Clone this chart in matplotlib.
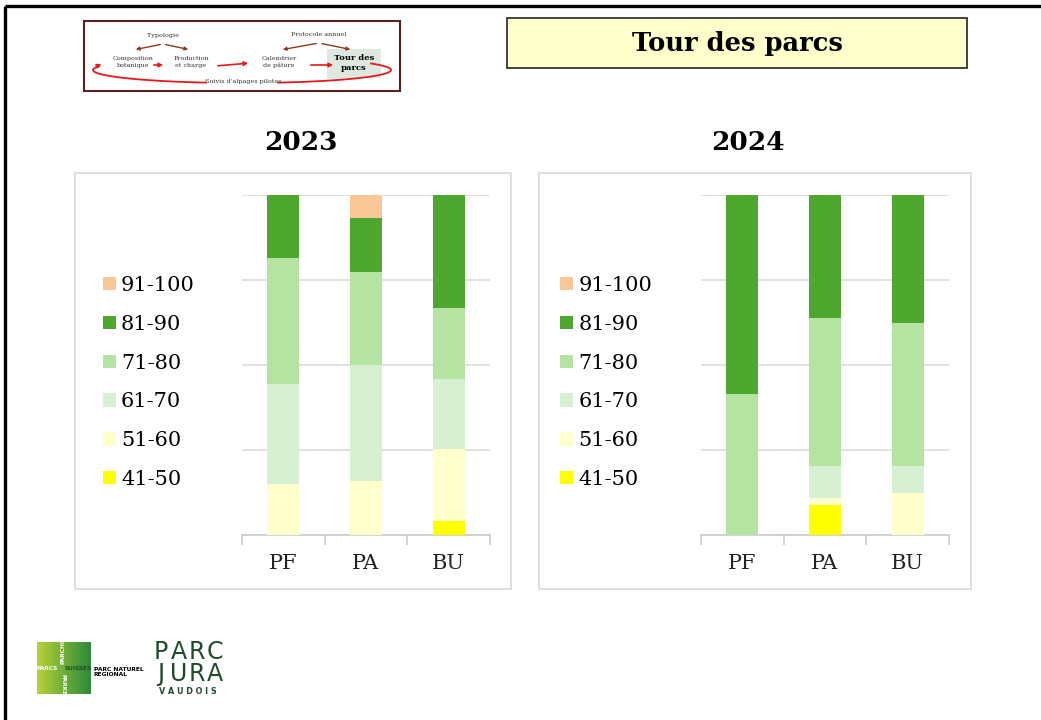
import numpy as np
import matplotlib
matplotlib.use("Agg")
import matplotlib.pyplot as plt
from matplotlib.patches import Rectangle, Patch
from matplotlib.colors import LinearSegmentedColormap

# --- data (share of surface per quality class, %) ---
parks = ["PF", "PA", "BU"]
classes = ["41-50", "51-60", "61-70", "71-80", "81-90", "91-100"]
colors = ["#ffff00", "#ffffcc", "#d8f0d2", "#b5e3a2", "#4ea72e", "#f9c896"]

pf_2023 = [0.0, 15.0, 29.4, 37.1, 18.5, 0.0]
pa_2023 = [0.0, 15.9, 34.0, 27.5, 15.9, 6.7]
bu_2023 = [4.2, 21.0, 20.6, 21.0, 33.2, 0.0]

pf_2024 = [0.0, 0.0, 0.0, 41.4, 58.6, 0.0]
pa_2024 = [8.8, 2.2, 9.4, 43.3, 36.3, 0.0]
bu_2024 = [0.0, 12.3, 8.1, 41.9, 37.7, 0.0]

serif = "DejaVu Serif"
W, H = 1041, 720

fig = plt.figure(figsize=(W / 100, H / 100), dpi=100)
fig.patch.set_facecolor("white")

# background layer in pixel coordinates (slide decoration)
bg = fig.add_axes([0, 0, 1, 1])
bg.set_xlim(0, W)
bg.set_ylim(H, 0)
bg.axis("off")

# slide border
bg.plot([5, W], [6, 6], color="black", lw=2.4, solid_capstyle="butt")
bg.plot([5, 5], [6, H], color="black", lw=2.4, solid_capstyle="butt")

# title box
bg.add_patch(Rectangle((507, 18), 460, 50, facecolor="#ffffcc", edgecolor="#222222", lw=1.2))
bg.text(737, 44, "Tour des parcs", ha="center", va="center", fontsize=18.5,
        fontweight="bold", family=serif)

# process diagram (top left)
brown = "#8b3a1a"
red = "#e8191a"
bg.add_patch(Rectangle((84, 21), 316, 70, facecolor="white", edgecolor="#5a1f1f", lw=1.5))
bg.add_patch(Rectangle((327, 49), 54, 29, facecolor="#dde8e0", edgecolor="none", zorder=1))
small = dict(ha="center", va="center", fontsize=4.6, family=serif, color="#333333", zorder=3)
bg.text(163, 36, "Typologie", **small)
bg.text(319, 34, "Protocole annuel", **small)
bg.text(133, 62, "Composition\nbotanique", linespacing=1.3, **small)
bg.text(191, 62, "Production\net charge", linespacing=1.3, **small)
bg.text(279, 62, "Calendrier\nde pâture", linespacing=1.3, **small)
bg.text(243, 81, "Suivis d'alpages pilotes", **small)
bg.text(354, 63, "Tour des\nparcs", ha="center", va="center", fontsize=6,
        fontweight="bold", family=serif, linespacing=1.2, zorder=3)
for (x0, y0), (x1, y1) in [((163, 44), (133, 50)), ((163, 44), (191, 50)),
                           ((319, 43), (280, 50)), ((319, 43), (353, 50))]:
    bg.annotate("", xy=(x1, y1), xytext=(x0, y0),
                arrowprops=dict(arrowstyle="-|>", color=brown, lw=1.0, mutation_scale=5))
for (x0, y0), (x1, y1) in [((151, 65), (166, 65)), ((215, 66), (251, 63)),
                           ((308, 65), (336, 65))]:
    bg.annotate("", xy=(x1, y1), xytext=(x0, y0),
                arrowprops=dict(arrowstyle="-|>", color=red, lw=1.2, mutation_scale=6))
# loop "Suivis d'alpages pilotes" (two arcs of an ellipse, gap for the text)
for t0, t1 in [(104, 196), (-30, 76)]:
    t = np.radians(np.linspace(t0, t1, 60))
    bg.plot(242 + 149 * np.cos(t), 70 + 13 * np.sin(t), color=red, lw=1.3, zorder=2)
bg.annotate("", xy=(104, 63), xytext=(96, 66.5),
            arrowprops=dict(arrowstyle="-|>", color=red, lw=1.2, mutation_scale=6))

# chart panels
bg.add_patch(Rectangle((75, 173), 436, 416, facecolor="white", edgecolor="#d9d9d9", lw=1.2))
bg.add_patch(Rectangle((539, 173), 432, 416, facecolor="white", edgecolor="#d9d9d9", lw=1.2))

# year titles
bg.text(301, 142, "2023", ha="center", va="center", fontsize=19, fontweight="bold", family=serif)
bg.text(748, 142, "2024", ha="center", va="center", fontsize=19, fontweight="bold", family=serif)

# logos
grad = np.linspace(0, 1, 60)[None, :] * np.ones((60, 1))
cmap = LinearSegmentedColormap.from_list("logo", ["#b8d23a", "#6fae35", "#2f8a3c"])
bg.imshow(grad, cmap=cmap, extent=(37, 91, 694, 642), aspect="auto", zorder=2)
bg.text(47, 668, "PARCS", fontsize=4.2, color="white", ha="center", va="center", fontweight="bold", zorder=3)
bg.text(78, 668, "SUISSES", fontsize=4.2, color="#1d4d22", ha="center", va="center", fontweight="bold", zorder=3)
bg.text(63, 652, "PARCHI", fontsize=4.2, color="white", ha="center", va="center", rotation=90, fontweight="bold", zorder=3)
bg.text(63, 685, "PARKE", fontsize=4.2, color="white", ha="center", va="center", rotation=-90, fontweight="bold", zorder=3)
bg.text(94, 672, "PARC NATUREL\nREGIONAL", fontsize=4.3, ha="left", va="center",
        fontweight="bold", linespacing=1.1, family="Liberation Sans Narrow")
dark = "#1f4a2c"
for word, y in [("PARC", 652), ("JURA", 674)]:
    for k, ch in enumerate(word):
        bg.text(161 + k * 18, y, ch, fontsize=17, color=dark, ha="center", va="center",
                family="DejaVu Sans")
bg.text(188, 691, "V A U D O I S", fontsize=5.8, color=dark, ha="center", va="center",
        fontweight="bold", family="DejaVu Sans")


def stacked_chart(rect, rows):
    ax = fig.add_axes(rect)
    ax.set_facecolor("none")
    x = np.arange(len(parks))
    bottom = np.zeros(len(parks))
    for i, (cls, col) in enumerate(zip(classes, colors)):
        vals = np.array([r[i] for r in rows])
        ax.bar(x, vals, width=0.39, bottom=bottom, color=col, zorder=3, label=cls)
        bottom += vals
    ax.set_xlim(-0.5, len(parks) - 0.5)
    ax.set_ylim(0, 100)
    ax.set_yticks([0, 25, 50, 75, 100])
    ax.yaxis.grid(True, color="#d9d9d9", lw=1.1, zorder=0)
    ax.tick_params(axis="y", length=0, labelleft=False)
    ax.set_xticks(x)
    ax.set_xticklabels(parks, family=serif, fontsize=15, color="#222222")
    ax.set_xticks(np.arange(len(parks) + 1) - 0.5, minor=True)
    ax.tick_params(axis="x", which="major", length=0, pad=14)
    ax.tick_params(axis="x", which="minor", length=7, color="#c8c8c8", width=1.1)
    for s in ["top", "left", "right"]:
        ax.spines[s].set_visible(False)
    ax.spines["bottom"].set_color("#c8c8c8")
    ax.spines["bottom"].set_linewidth(1.1)
    return ax


ax1 = stacked_chart([242 / W, 185 / H, 248 / W, 340 / H], [pf_2023, pa_2023, bu_2023])
ax2 = stacked_chart([701 / W, 185 / H, 248 / W, 340 / H], [pf_2024, pa_2024, bu_2024])

handles = [Patch(facecolor=c) for c in colors[::-1]]
labels = classes[::-1]
for ax, lx in [(ax1, 103), (ax2, 560)]:
    ax.legend(handles, labels, loc="upper left", bbox_to_anchor=(lx / W, 1 - 276 / H),
              bbox_transform=fig.transFigure, frameon=False, borderpad=0, borderaxespad=0,
              handlelength=0.62, handleheight=0.62, handletextpad=0.25, labelspacing=0.95,
              prop=dict(family=serif, size=15))

fig.savefig("out.png", dpi=100)
